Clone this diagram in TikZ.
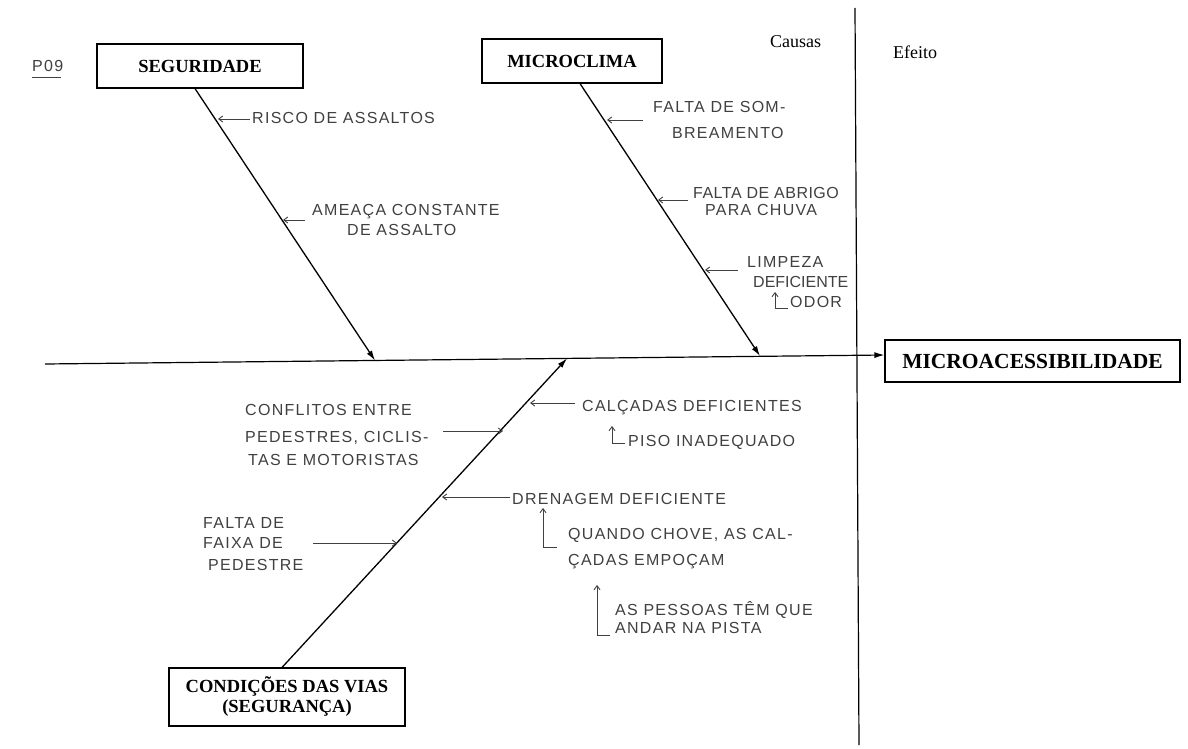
\documentclass[tikz,border=0pt]{standalone}
\usepackage{fontspec}
\setmainfont{Liberation Serif}
\newfontfamily\hand[LetterSpace=8]{Liberation Sans}
\usetikzlibrary{arrows.meta}
\begin{document}
\begin{tikzpicture}[x=1pt,y=-1pt,
  box/.style={draw, line width=1.1pt, inner sep=0pt, align=center,
    font=\bfseries\fontsize{18.5}{20}\selectfont},
  bone/.style={line width=1.3pt, -{Latex[length=10pt,width=6pt]}},
  hw/.style={font=\hand\fontsize{16}{18}\selectfont, text=black!75, inner sep=0pt, anchor=west},
  hwarrow/.style={draw=black!75, line width=0.9pt, -{Straight Barb[length=4pt,width=6pt]}},
  hwline/.style={draw=black!75, line width=0.9pt},
  plain/.style={font=\fontsize{18}{20}\selectfont, inner sep=0pt, anchor=base west}]
\useasboundingbox (0,0) rectangle (1188,749);

% boxes
\node[box, minimum width=206pt, minimum height=44pt] (seg) at (200,66) {SEGURIDADE};
\node[box, minimum width=180pt, minimum height=44pt] (mic) at (572,61) {MICROCLIMA};
\node[box, minimum width=295pt, minimum height=42pt, font=\bfseries\fontsize{21.5}{24}\selectfont] (mac) at (1032.5,361) {MICROACESSIBILIDADE};
\node[box, minimum width=236pt, minimum height=58pt] (cond) at (287,697) {CONDIÇÕES DAS VIAS\\(SEGURANÇA)};

% headings
\node[plain] (causas) at (770,48) {Causas};
\node[plain] (efeito) at (893,59) {Efeito};
\node[hw] (p09) at (32,66) {P09};
\draw[hwline] ([yshift=-6pt]p09.south west) -- ([yshift=-6pt,xshift=-2pt]p09.south east);

% divider
\coordinate (vtop) at (855,8);
\coordinate (vbot) at (859,745);
\draw[line width=1.2pt] (vtop) -- (vbot);

% spine
\coordinate (sp0) at (45,364);
\draw[line width=1.2pt, -{Latex[length=10pt,width=6pt]}] (sp0) -- ([yshift=6pt]mac.west);

% bones
\coordinate (segtip) at (375,360.5);
\coordinate (mictip) at (760,356);
\coordinate (condtip) at (567,358.4);
\draw[bone] ([xshift=-5pt]seg.south) -- (segtip);
\draw[bone] ([xshift=8pt]mic.south) -- (mictip);
\draw[bone] ([xshift=-5pt]cond.north) -- (condtip);

% SEGURIDADE causes
\node[hw] (risco) at (252,118) {RISCO DE ASSALTOS};
\coordinate (t1) at (218,119);
\draw[hwarrow] ([xshift=-2pt,yshift=-1pt]risco.west) -- (t1);

\node[hw] (amea1) at (312,212) {AMEAÇA CONSTANTE};
\node[hw] (amea2) at (347,230) {DE ASSALTO};
\coordinate (a2s) at (305,220);
\coordinate (t2) at (283,220);
\draw[hwarrow] (a2s) -- (t2);

% MICROCLIMA causes
\node[hw] (som1) at (653,107) {FALTA DE SOM-};
\node[hw] (som2) at (672,133) {BREAMENTO};
\coordinate (a3s) at (643,120);
\coordinate (t3) at (607,120);
\draw[hwarrow] (a3s) -- (t3);

\node[hw] (abr1) at (693,193) {\addfontfeatures{LetterSpace=3}FALTA DE ABRIGO};
\node[hw] (abr2) at (705,210) {PARA CHUVA};
\coordinate (a4s) at (688,200);
\coordinate (t4) at (658,200);
\draw[hwarrow] (a4s) -- (t4);

\node[hw] (lim1) at (747,262) {LIMPEZA};
\node[hw] (lim2) at (753,282) {\addfontfeatures{LetterSpace=0}DEFICIENTE};
\coordinate (a5s) at (738,270);
\coordinate (t5) at (705,270);
\draw[hwarrow] (a5s) -- (t5);
\node[hw] (odor) at (790,302) {ODOR};
\coordinate (o1) at (775,308);
\coordinate (o2) at (775,292);
\draw[hwarrow] ([xshift=-2pt,yshift=-6pt]odor.west) -- (o1) -- (o2);

% CONDICOES causes
\node[hw] (conf1) at (245,410) {CONFLITOS ENTRE};
\node[hw] (conf2) at (245,438) {PEDESTRES, CICLIS-};
\node[hw] (conf3) at (248,460) {TAS E MOTORISTAS};
\coordinate (a6s) at (443,431);
\coordinate (t6) at (503,431);
\draw[hwarrow] (a6s) -- (t6);

\node[hw] (falta1) at (203,523) {FALTA DE};
\node[hw] (falta2) at (203,543) {FAIXA DE};
\node[hw] (falta3) at (208,565) {PEDESTRE};
\coordinate (a9s) at (313,543);
\coordinate (t9) at (397,543);
\draw[hwarrow] (a9s) -- (t9);

\node[hw] (calc) at (582,408) {CALÇADAS DEFICIENTES};
\coordinate (a7s) at (575,403);
\coordinate (t7) at (530,403);
\draw[hwarrow] (a7s) -- (t7);
\node[hw] (piso) at (628,442) {PISO INADEQUADO};
\coordinate (p1) at (612,443);
\coordinate (p2) at (612,426);
\draw[hwarrow] ([xshift=-3pt,yshift=-1pt]piso.west) -- (p1) -- (p2);

\node[hw] (dren) at (512,499) {DRENAGEM DEFICIENTE};
\coordinate (t8) at (442,497);
\draw[hwarrow] ([xshift=-2pt,yshift=2pt]dren.west) -- (t8);
\node[hw] (qch1) at (568,535) {QUANDO CHOVE, AS CAL-};
\node[hw] (qch2) at (568,562) {ÇADAS EMPOÇAM};
\coordinate (q0) at (557,547);
\coordinate (q1) at (543,547);
\coordinate (q2) at (543,508);
\draw[hwarrow] (q0) -- (q1) -- (q2);

\node[hw] (pes1) at (615,610) {AS PESSOAS TÊM QUE};
\node[hw] (pes2) at (615,628) {ANDAR NA PISTA};
\coordinate (s0) at (610,635);
\coordinate (s1) at (597,635);
\coordinate (s2) at (597,585);
\draw[hwarrow] (s0) -- (s1) -- (s2);
\end{tikzpicture}
\end{document}
